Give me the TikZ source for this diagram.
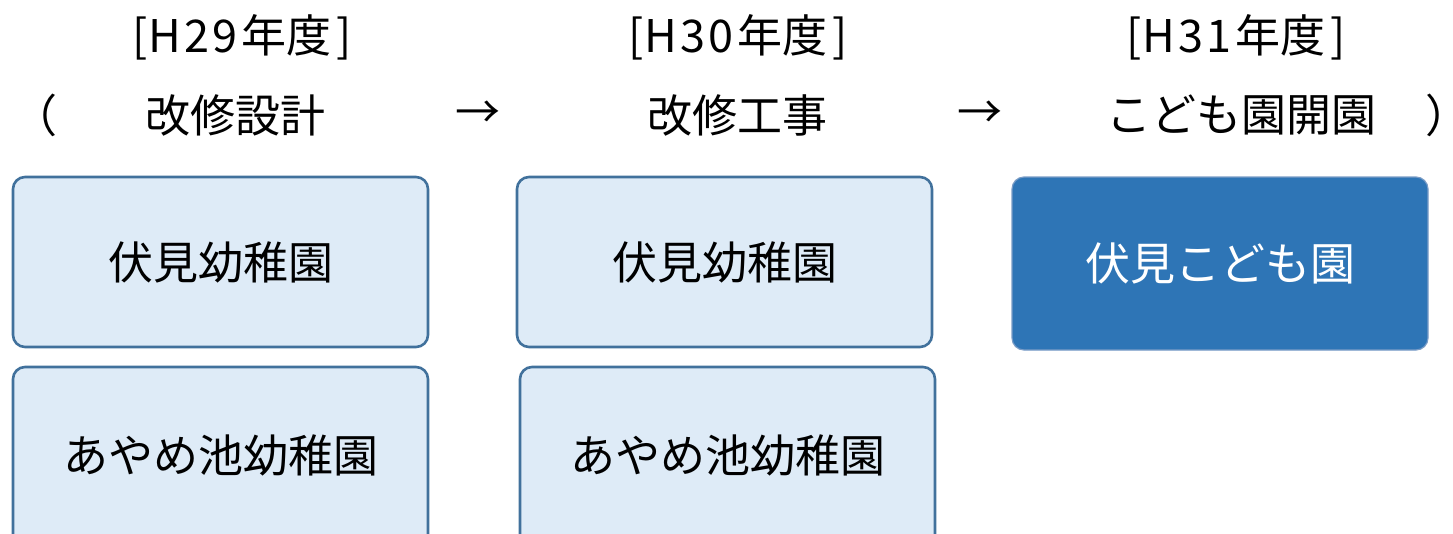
\documentclass[tikz,border=0pt]{standalone}
\usepackage{fontspec}
\setmainfont{Noto Sans CJK JP}
\definecolor{boxfill}{HTML}{DEEBF7}
\definecolor{boxline}{HTML}{41719C}
\definecolor{darkfill}{HTML}{2E75B6}
\definecolor{darkline}{HTML}{7A9CC6}
\tikzset{
  lbl/.style={inner sep=0pt, font=\fontsize{45}{50}\selectfont},
  lightbox/.style={draw=boxline, line width=2.6pt, fill=boxfill, rounded corners=12pt,
     minimum width=415pt, inner sep=0pt, font=\fontsize{45}{50}\selectfont},
  darkbox/.style={draw=darkline, line width=1.2pt, fill=darkfill, rounded corners=12pt,
     minimum width=416pt, inner sep=0pt, text=white, font=\fontsize{45}{50}\selectfont}
}
\newcommand{\hdr}[2]{[\hspace{1pt}H\hspace{3pt}#1\hspace{3pt}#2\hspace{4pt}年度\hspace{5pt}]}
\begin{document}
\begin{tikzpicture}[x=1pt,y=-1pt]
\useasboundingbox (0,0) rectangle (1453,533);
\clip (0,0) rectangle (1453,533);
% headers
\node[lbl] (h1) at (242,37) {\hdr{2}{9}};
\node[lbl] (h2) at (738,37) {\hdr{3}{0}};
\node[lbl] (h3) at (1236,37) {\hdr{3}{1}};
% second row
\node[lbl, anchor=east] (lp) at (58,115) {\makebox[22pt][r]{（}};
\node[lbl] (s1) at (235,115) {改修設計};
\node[lbl] (a1) at (478,115) {→};
\node[lbl] (s2) at (737,115) {改修工事};
\node[lbl] (a2) at (980,115) {→};
\node[lbl] (s3) at (1241,115) {こども園開園};
\node[lbl, anchor=west] (rp) at (1425,115) {\makebox[20pt][l]{）}};
% boxes
\node[lightbox, minimum height=170pt] (b11) at (220.5,262) {伏見幼稚園};
\node[lightbox, minimum height=190pt] (b12) at (220.5,462) {};
\node[lbl] (t12) at (220.5,455) {あやめ池幼稚園};
\node[lightbox, minimum height=170pt] (b21) at (724.5,262) {伏見幼稚園};
\node[lightbox, minimum height=190pt] (b22) at (727.5,462) {};
\node[lbl] (t22) at (727.5,455) {あやめ池幼稚園};
\node[darkbox, minimum height=173pt] (b31) at (1220,263.5) {伏見こども園};
\end{tikzpicture}
\end{document}
